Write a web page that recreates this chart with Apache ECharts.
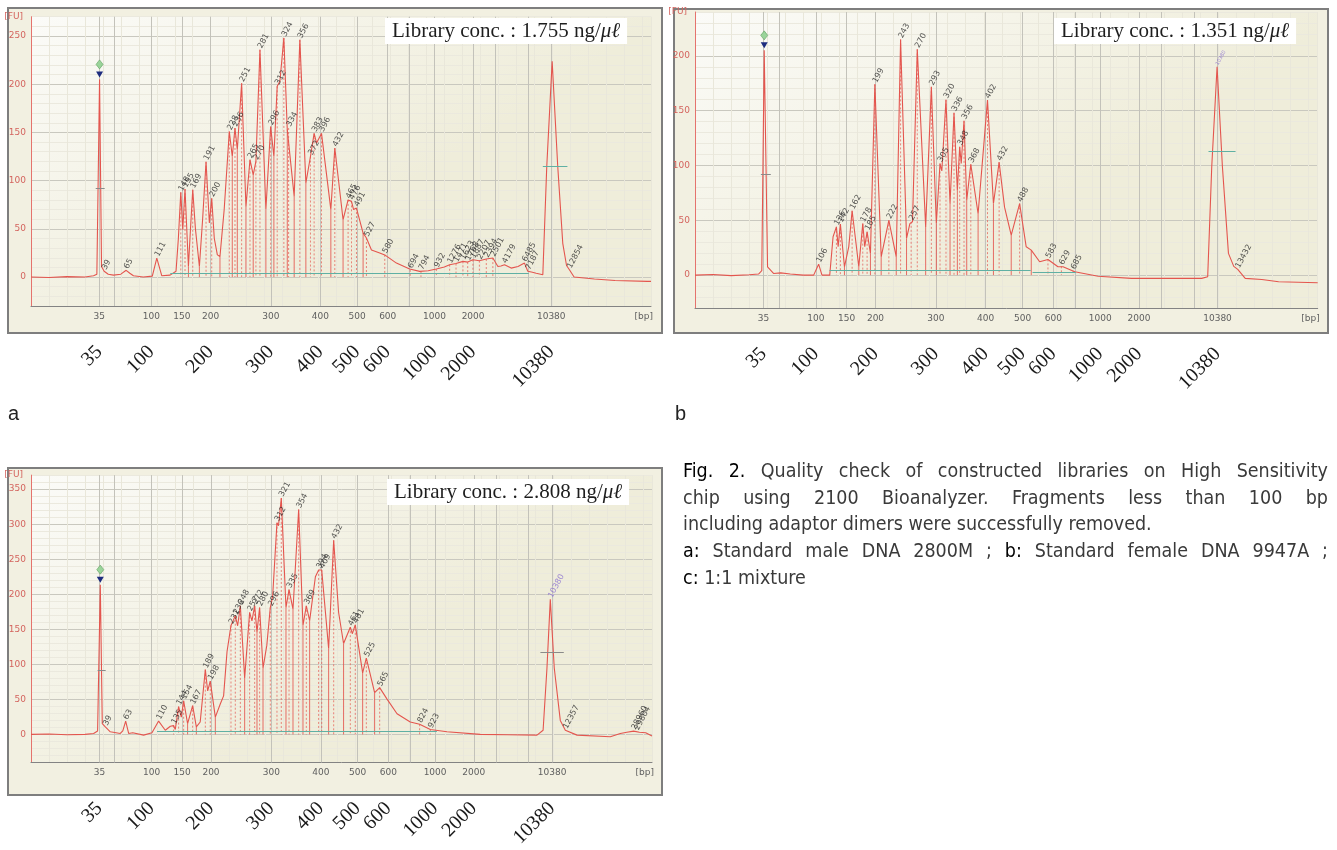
<!DOCTYPE html>
<html>
<head>
<meta charset="utf-8">
<title>Fig. 2 - library QC on 2100 Bioanalyzer</title>
<script src="https://cdn.jsdelivr.net/npm/echarts@6.0.0/dist/echarts.min.js"></script>
<style>
  html, body { margin: 0; padding: 0; background: #fff; }
  .frame { position: absolute; box-sizing: border-box; border: 2px solid #7e7e7e; background: #f2f0e1; }
  #chart { position: absolute; left: 0; top: 0; width: 1337px; height: 850px; }
  #caption {
    position: absolute; left: 683px; top: 458px; width: 645px;
    font-family: "DejaVu Sans Condensed", "DejaVu Sans", sans-serif; font-stretch: condensed;
    font-size: 19.5px; line-height: 26.7px; color: #3a3a3a; white-space: nowrap;
  }
  #caption .j { text-align: justify; text-align-last: justify; }
  #caption b { font-weight: normal; color: #000; }
</style>
</head>
<body>
<div class="frame" style="left:7px;top:7px;width:656px;height:327px"></div>
<div class="frame" style="left:673px;top:8px;width:656px;height:326px"></div>
<div class="frame" style="left:7px;top:467px;width:656px;height:329px"></div>
<div id="chart"></div>
<div id="caption">
  <div class="j"><b>Fig. 2.</b> Quality check of constructed libraries on High Sensitivity</div>
  <div class="j">chip using 2100 Bioanalyzer. Fragments less than 100 bp</div>
  <div>including adaptor dimers were successfully removed.</div>
  <div class="j"><b>a:</b> Standard male DNA 2800M ; <b>b:</b> Standard female DNA 9947A ;</div>
  <div><b>c:</b> 1:1 mixture</div>
</div>
<script>
// ladder sizes and their migration time [s] (same for the three runs)
const ladderBp = ['35', '50', '100', '150', '200', '300', '400', '500', '600', '700', '1000', '2000', '3000', '7000', '10380'];
const ladderTime = [47.6, 49.3, 53.4, 56.8, 60.0, 66.7, 72.2, 76.3, 79.7, 82.1, 84.9, 89.2, 91.7, 95.3, 97.9];
const tickLabelBp = ['35', '100', '150', '200', '300', '400', '500', '600', '1000', '2000', '10380'];
const bigLabelBp = ['35', '100', '200', '300', '400', '500', '600', '1000', '2000', '10380'];

// run a : [time s, FU]
const traceA = [[40, 0], [42, -0.5], [44, 0.5], [46, 0], [46.96, 1.4], [47.33, 3], [47.63, 205], [47.85, 11], [48.14, 6], [48.6, 3],
  [49.18, 2], [50.0, 3], [50.59, 7], [51.0, 4], [51.4, 1.4], [52.5, 0], [53.5, 1], [54.0, 19.7], [54.55, 1.4], [55.48, 2],
  [56.14, 6], [56.4, 40], [56.67, 87.8], [56.89, 49], [57.14, 91.3], [57.52, 11], [57.75, 50], [58.0, 90.6], [58.3, 50], [58.74, 11],
  [59.1, 60], [59.48, 119.6], [59.85, 56], [60.11, 81.6], [60.4, 40], [60.74, 23], [61.03, 21.4], [61.5, 70], [62.07, 151], [62.4, 125],
  [62.7, 154.6], [62.96, 132], [63.44, 201], [63.92, 73], [64.37, 121.7], [64.73, 106], [65.03, 120], [65.2, 118], [65.48, 235.8], [66.14, 70],
  [66.67, 156], [67.03, 125], [67.4, 197.8], [67.7, 203], [68.14, 248], [68.52, 153], [68.67, 154.6], [69.29, 83.7], [69.92, 246], [70.59, 97.5],
  [71.1, 125], [71.51, 149], [71.78, 139], [72.33, 149], [73.37, 70], [73.81, 133.8], [74.73, 59.5], [75.29, 80], [75.67, 78.5], [75.9, 70],
  [76.22, 71.6], [76.96, 45.6], [77.33, 40.5], [77.89, 28], [78.81, 25], [79.37, 23], [80.67, 14.5], [82.14, 8.3], [83.26, 5.9], [84.2, 6.5],
  [85.11, 8.3], [86.0, 10.5], [86.59, 12.8], [87.3, 14], [88.07, 16.3], [88.6, 15.5], [89.18, 18], [89.9, 17], [90.67, 18.7], [91.4, 19.7],
  [91.96, 11], [92.3, 11.5], [92.7, 12.8], [93.44, 9.3], [94.2, 11], [94.92, 14.5], [95.29, 6], [95.8, 5], [96.22, 4], [96.96, 2.4],
  [97.4, 115], [98.0, 223.7], [98.62, 115], [99.18, 35], [99.6, 12], [99.92, 7.6], [100.44, 0], [102.7, -2], [105, -3.5], [108.6, -4.5], [109, -4.5]];
// called peaks : [size bp, time s, FU]
const peaksA = [['39', 48.14, 6], ['65', 50.59, 7], ['111', 54.0, 19.7], ['148', 56.67, 87.8], ['155', 57.14, 91.3], ['169', 58.0, 90.6],
  ['191', 59.48, 119.6], ['200', 60.11, 81.6], ['228', 62.07, 151], ['236', 62.7, 154.6], ['251', 63.44, 201], ['265', 64.37, 121.7],
  ['270', 65.03, 120], ['281', 65.48, 235.8], ['296', 66.67, 156], ['312', 67.4, 197.8], ['324', 68.14, 248], ['334', 68.67, 154.6],
  ['356', 69.92, 246], ['372', 71.1, 125], ['383', 71.51, 149], ['396', 72.33, 149], ['432', 73.81, 133.8], ['465', 75.29, 80],
  ['476', 75.67, 78.5], ['491', 76.22, 71.6], ['527', 77.33, 40.5], ['580', 79.37, 23], ['694', 82.2, 7.5], ['794', 83.4, 6],
  ['932', 85.11, 8.3], ['1276', 86.59, 12.8], ['1471', 87.3, 14], ['1623', 88.07, 16.3], ['1768', 88.6, 15.5], ['1887', 89.18, 18],
  ['2207', 89.9, 17], ['2394', 90.67, 18.7], ['2501', 91.4, 19.7], ['4179', 92.7, 12.8], ['6485', 94.92, 14.5], ['7187', 95.29, 6],
  ['12854', 99.92, 7.6]];
const valleysA = [[57.52, 11], [58.74, 11], [61.03, 21.4], [62.4, 125], [62.96, 132], [63.92, 73], [64.73, 106], [66.14, 70],
  [67.03, 125], [68.52, 153], [69.29, 83.7], [70.59, 97.5], [73.37, 70], [74.73, 59.5], [76.96, 45.6]];
const baselineA = [[55.5, 95.4, 3.5]];          // [from s, to s, FU]
const halfHeightA = [[47.2, 48.2, 92], [96.96, 99.7, 115]];
const concA = '1.755';

// run b
const traceB = [[40, 0], [42, 0.5], [44, -0.5], [46, 0.3], [47.04, 1], [47.4, 4], [47.67, 205], [48.04, 7.6], [48.7, 1.5], [49.5, 2],
  [50.56, 1], [52, 0], [53.15, 0], [53.7, 10], [54.07, 0], [54.93, 0], [55.3, 35], [55.67, 44], [55.86, 26], [56.11, 46.5],
  [56.56, 7.6], [57.04, 26], [57.41, 58.7], [58.15, 7.6], [58.59, 47], [58.81, 26], [59.07, 39.5], [59.44, 19.8], [59.93, 174], [60.63, 16.7],
  [61.48, 50], [62.3, 16.7], [62.78, 215], [63.44, 33.4], [63.81, 47], [64.1, 48.6], [64.63, 206], [65.56, 44], [66.19, 171.7], [66.74, 47],
  [67.15, 101.8], [67.35, 95], [67.81, 160], [68.26, 65], [68.7, 148], [69.07, 77.5], [69.33, 117], [69.5, 101.8], [69.81, 140.7], [70.11, 68.4],
  [70.56, 101], [71.37, 56], [72.41, 159.6], [73.07, 65.3], [73.7, 103], [74.3, 62], [75.04, 36.5], [75.97, 65.3], [76.7, 25.8], [77.26, 22.8],
  [78.19, 12.2], [79.11, 14.3], [80.22, 7.6], [80.78, 7.6], [82.08, 3], [84.67, -1], [88.37, -3], [92.07, -3], [96.14, -3], [96.81, -1.5],
  [97.26, 99], [97.85, 190], [98.44, 99], [99.11, 19.8], [99.7, 8], [100.14, 5.2], [100.97, -3], [102.81, -4], [104.67, -6], [109, -7]];
const peaksB = [['106', 53.7, 10], ['136', 55.67, 44], ['142', 56.11, 46.5], ['162', 57.41, 58.7], ['178', 58.59, 47], ['185', 59.07, 39.5],
  ['199', 59.93, 174], ['222', 61.48, 50], ['243', 62.78, 215], ['257', 63.95, 48.6], ['270', 64.63, 206], ['293', 66.19, 171.7],
  ['305', 67.15, 101.8], ['320', 67.81, 160], ['336', 68.7, 148], ['348', 69.33, 117], ['356', 69.81, 140.7], ['368', 70.56, 101],
  ['402', 72.41, 159.6], ['432', 73.7, 103], ['488', 75.97, 65.3], ['583', 79.11, 14.3], ['629', 80.6, 8], ['685', 81.9, 4],
  ['13432', 100.14, 5.2]];
const valleysB = [[56.56, 7.6], [58.15, 7.6], [59.44, 19.8], [60.63, 16.7], [62.3, 16.7], [63.44, 33.4], [65.56, 44], [66.74, 47],
  [68.26, 65], [69.07, 77.5], [70.11, 68.4], [71.37, 56], [73.07, 65.3], [75.04, 36.5], [77.26, 22.8]];
const baselineB = [[54.9, 77.2, 4], [77.4, 82.2, 2.5]];
const halfHeightB = [[47.3, 48.4, 92], [96.9, 99.9, 113]];
const concB = '1.351';

// run c
const traceC = [[40, 0], [42, 0.5], [44, -0.5], [46, 0], [46.96, 1.4], [47.4, 5], [47.7, 213.7], [47.92, 15.4], [48.26, 10.7], [48.81, 3.7],
  [49.92, 1.4], [50.2, 5], [50.52, 19], [50.85, 1.4], [51.3, 2.3], [52.51, -1], [53.44, 2.3], [54.18, 19], [54.92, 6], [55.48, 11.7],
  [55.84, 12.6], [56.03, 7], [56.4, 39.7], [56.7, 24.7], [56.96, 48], [57.4, 15.4], [57.96, 41], [58.37, 10.7], [58.8, 17.7], [59.37, 92.4],
  [59.63, 62], [59.92, 76], [60.48, 24.7], [61.03, 43.4], [61.4, 55], [61.78, 118], [62.22, 155.4], [62.45, 162], [62.7, 169.4], [62.96, 155],
  [63.26, 183.4], [63.74, 80.7], [64.29, 174], [64.55, 162], [64.85, 183.4], [65.11, 146], [65.4, 181], [65.78, 94.7], [66.2, 127], [66.59, 181],
  [66.85, 197], [67.33, 302], [67.5, 297.7], [67.81, 337.4], [68.33, 181], [68.67, 206.7], [69.11, 178.7], [69.74, 321], [70.22, 155.4], [70.59, 183.4],
  [70.96, 162.4], [71.6, 225], [71.96, 234.7], [72.3, 234.7], [73.07, 122.7], [73.63, 277], [74.18, 174], [74.73, 129.7], [75.48, 153], [75.7, 143.7],
  [76.03, 156.3], [76.85, 87.7], [77.26, 108.7], [78.18, 59.7], [78.74, 66.7], [79.56, 50.4], [80.67, 29.4], [82.14, 17.7], [83.18, 14.5], [84.37, 7],
  [86.22, 3.7], [89.92, 0], [93, -0.5], [96.22, -1], [96.9, 6], [97.33, 94.7], [97.7, 192.7], [98.14, 94.7], [98.81, 20], [99.37, 6],
  [100.67, -1], [104.37, -3.3], [105.48, 1.4], [106.2, 3], [106.96, 4.7], [107.6, 3], [108.3, 2.3], [109, -2.3]];
const peaksC = [['39', 48.26, 10.7], ['63', 50.52, 19], ['110', 54.18, 19], ['135', 55.84, 12.6], ['144', 56.4, 39.7], ['154', 56.96, 48],
  ['167', 57.96, 41], ['189', 59.37, 92.4], ['198', 59.92, 76], ['231', 62.22, 155.4], ['236', 62.7, 169.4], ['248', 63.26, 183.4],
  ['257', 64.29, 174], ['272', 64.85, 183.4], ['280', 65.4, 181], ['296', 66.59, 181], ['312', 67.33, 302], ['321', 67.81, 337.4],
  ['335', 68.67, 206.7], ['354', 69.74, 321], ['369', 70.59, 183.4], ['394', 71.96, 234.7], ['409', 72.3, 234.7], ['432', 73.63, 277],
  ['461', 75.48, 153], ['481', 76.03, 156.3], ['525', 77.26, 108.7], ['565', 78.74, 66.7], ['824', 83.18, 14.5], ['923', 84.37, 7],
  ['12357', 99.37, 6], ['28960', 106.96, 4.7], ['29804', 107.3, 4]];
const valleysC = [[57.4, 15.4], [58.37, 10.7], [60.48, 24.7], [63.74, 80.7], [65.11, 146], [65.78, 94.7], [68.33, 181], [69.11, 178.7],
  [70.22, 155.4], [70.96, 162.4], [73.07, 122.7], [74.73, 129.7], [76.85, 87.7], [78.18, 59.7]];
const baselineC = [[54.0, 85.1, 4]];
const halfHeightC = [[47.4, 48.3, 92], [96.6, 99.2, 117]];
const concC = '2.808';

const upperMarker = [['10380', 97.85, 190, 'b'], ['10380', 97.7, 192.7, 'c']];

const timeOf = bp => ladderTime[ladderBp.indexOf(bp)];
const bpAt = t => {
  for (let k = 0; k < ladderTime.length; k++) {
    if (Math.abs(ladderTime[k] - t) < 1e-6) return ladderBp[k];
  }
  return '[bp]';
};

const panels = [
  { key: 'a', trace: traceA, peaks: peaksA, valleys: valleysA, base: baselineA, half: halfHeightA, conc: concA,
    fuMin: -30, fuMax: 270, grid: { left: 31, top: 16.7, width: 620, height: 289.3 }, box: [385, 18], tag: [8, 404] },
  { key: 'b', trace: traceB, peaks: peaksB, valleys: valleysB, base: baselineB, half: halfHeightB, conc: concB,
    fuMin: -30, fuMax: 240, grid: { left: 695, top: 12, width: 622.7, height: 296 }, box: [1054, 18], tag: [675, 404] },
  { key: 'c', trace: traceC, peaks: peaksC, valleys: valleysC, base: baselineC, half: halfHeightC, conc: concC,
    fuMin: -40, fuMax: 370, grid: { left: 31, top: 475.1, width: 621, height: 292.8 }, box: [387, 479], tag: null }
];

const RED = '#e4554e';
const TEAL = '#5fb0a4';
const plotBg = new echarts.graphic.LinearGradient(0, 0, 0.3, 1, [
  { offset: 0, color: '#fbfbf8' }, { offset: 1, color: '#efedda' }
]);

const grid = [], xAxis = [], yAxis = [], series = [], graphic = [];

panels.forEach((p, i) => {
  grid.push(Object.assign({ show: true, backgroundColor: plotBg, borderWidth: 0 }, p.grid));

  // main time axis with ladder ticks
  xAxis.push({
    gridIndex: i, type: 'value', min: 40, max: 109, position: 'bottom',
    axisLine: { onZero: false, lineStyle: { color: '#838383', width: 1 } },
    axisTick: { customValues: ladderTime, inside: true, length: 5, lineStyle: { color: '#838383' } },
    axisLabel: {
      customValues: tickLabelBp.map(timeOf).concat([108.2]),
      formatter: v => bpAt(v), color: '#606060', fontSize: 9, fontFamily: 'DejaVu Sans', margin: 6
    },
    splitLine: { show: false }
  });
  // enlarged size labels below the panel
  xAxis.push({
    gridIndex: i, type: 'value', min: 40, max: 109, position: 'bottom', offset: 34,
    axisLine: { show: false }, axisTick: { show: false }, splitLine: { show: false },
    axisLabel: {
      customValues: bigLabelBp.map(timeOf), formatter: v => bpAt(v), rotate: 45, margin: 9,
      fontFamily: 'Liberation Serif', fontSize: 20, color: '#1a1a1a'
    }
  });
  // fine vertical grid
  xAxis.push({
    gridIndex: i, type: 'value', min: 40, max: 109, interval: 2, position: 'bottom',
    axisLine: { show: false }, axisTick: { show: false }, axisLabel: { show: false },
    splitLine: { show: true, lineStyle: { color: '#e9e7da', width: 1 } }
  });

  const majorIdx = ((0 - p.fuMin) / 10) % 5;
  const lineColors = [0, 1, 2, 3, 4].map(k => (k === majorIdx ? '#c9c8bf' : '#ebe9de'));
  yAxis.push({
    gridIndex: i, type: 'value', min: p.fuMin, max: p.fuMax, interval: 10,
    name: '[FU]', nameLocation: 'end', nameGap: 0,
    nameTextStyle: { color: '#d4645e', fontSize: 9, fontFamily: 'DejaVu Sans', align: 'right', verticalAlign: 'middle', padding: [0, 8, 0, 0] },
    axisLine: { show: true, onZero: false, lineStyle: { color: '#e5736d', width: 1 } },
    axisTick: { show: false },
    axisLabel: { formatter: v => (v % 50 === 0 ? String(v) : ''), color: '#d4645e', fontSize: 9, fontFamily: 'DejaVu Sans', margin: 5 },
    splitLine: { show: true, lineStyle: { color: lineColors, width: 1 } }
  });

  const xi = i * 3;
  // ladder grid lines
  series.push({
    type: 'line', xAxisIndex: xi, yAxisIndex: i, data: [[40, 0]], symbol: 'none', silent: true,
    lineStyle: { opacity: 0 },
    markLine: {
      silent: true, symbol: 'none', z: 1, label: { show: false },
      lineStyle: { color: '#c3c2ba', type: 'solid', width: 1 },
      data: ladderTime.map(t => ({ xAxis: t }))
    }
  });
  // drop lines at valleys (solid) and at called peaks (dotted)
  const dropItem = dash => (params, api) => {
    const top = api.coord([api.value(0), api.value(1)]);
    const bot = api.coord([api.value(0), 0]);
    return {
      type: 'line', shape: { x1: top[0], y1: top[1], x2: bot[0], y2: bot[1] },
      style: { stroke: RED, lineWidth: 1, opacity: dash ? 0.7 : 0.85, lineDash: dash ? [2, 2] : null }
    };
  };
  series.push({ type: 'custom', xAxisIndex: xi, yAxisIndex: i, z: 2, silent: true, data: p.valleys, renderItem: dropItem(false) });
  series.push({
    type: 'custom', xAxisIndex: xi, yAxisIndex: i, z: 2, silent: true,
    data: p.peaks.filter(k => k[1] > 55 && k[1] < 92).map(k => [k[1], k[2]]), renderItem: dropItem(true)
  });

  // the trace
  const lm = p.base.map(b => [{ coord: [b[0], b[2]], lineStyle: { color: TEAL } }, { coord: [b[1], b[2]] }])
    .concat(p.half.map((b, k) => [{ coord: [b[0], b[2]], lineStyle: { color: (k === 1 && p.key !== 'c') ? TEAL : '#8a8a8a' } }, { coord: [b[1], b[2]] }]));
  const peak35 = p.trace.reduce((m, d) => (d[0] < 50 && d[1] > m[1] ? d : m), [0, -1]);
  series.push({
    type: 'line', xAxisIndex: xi, yAxisIndex: i, z: 3, data: p.trace, showSymbol: false, symbol: 'none',
    lineStyle: { color: RED, width: 1.1 }, silent: true, animation: false,
    markLine: { silent: true, symbol: 'none', label: { show: false }, lineStyle: { type: 'solid', width: 1 }, data: lm },
    markPoint: {
      silent: true, label: { show: false },
      data: [
        { coord: peak35, symbol: 'diamond', symbolSize: [7, 9], symbolOffset: [0, -15], itemStyle: { color: '#9ad49a', borderColor: '#5e9e5e', borderWidth: 0.6 } },
        { coord: peak35, symbol: 'triangle', symbolRotate: 180, symbolSize: [7, 6], symbolOffset: [0, -5], itemStyle: { color: '#1d2c7e' } }
      ]
    }
  });

  // peak size labels
  series.push({
    type: 'scatter', xAxisIndex: xi, yAxisIndex: i, z: 4, silent: true, symbolSize: 0,
    data: p.peaks.map(k => [k[1], k[2], k[0]]),
    label: {
      show: true, position: 'top', distance: 2, rotate: 62, align: 'left', verticalAlign: 'middle',
      formatter: q => q.value[2], fontSize: 8, fontFamily: 'DejaVu Sans', color: '#2b2b2b'
    }
  });
  const um = upperMarker.filter(m => m[3] === p.key);
  if (um.length) {
    series.push({
      type: 'scatter', xAxisIndex: xi, yAxisIndex: i, z: 4, silent: true, symbolSize: 0,
      data: um.map(m => [m[1], m[2], m[0]]),
      label: {
        show: true, position: 'top', distance: 2, rotate: 62, align: 'left', verticalAlign: 'middle',
        formatter: q => q.value[2], fontSize: p.key === 'c' ? 8 : 5, fontFamily: 'DejaVu Sans', color: '#8a6fd0'
      }
    });
  }

  graphic.push({
    type: 'text', left: p.box[0], top: p.box[1], z: 10, silent: true,
    style: {
      text: 'Library conc. : ' + p.conc + ' ng/{i|\u03bc\u2113}',
      fontFamily: 'Liberation Serif', fontSize: 21, fill: '#1e1e1e',
      backgroundColor: '#ffffff', padding: [3, 7, 2, 7],
      rich: { i: { fontFamily: 'Liberation Serif', fontStyle: 'italic', fontSize: 21, fill: '#1e1e1e' } }
    }
  });
  if (p.tag) {
    graphic.push({
      type: 'text', left: p.tag[0], top: p.tag[1], silent: true,
      style: { text: p.key, fontFamily: 'Liberation Sans', fontSize: 20, fill: '#222' }
    });
  }
});

const chart = echarts.init(document.getElementById('chart'), null, { renderer: 'canvas' });
chart.setOption({
  animation: false,
  backgroundColor: 'transparent',
  grid: grid,
  xAxis: xAxis,
  yAxis: yAxis,
  series: series,
  graphic: graphic
});
</script>
</body>
</html>
